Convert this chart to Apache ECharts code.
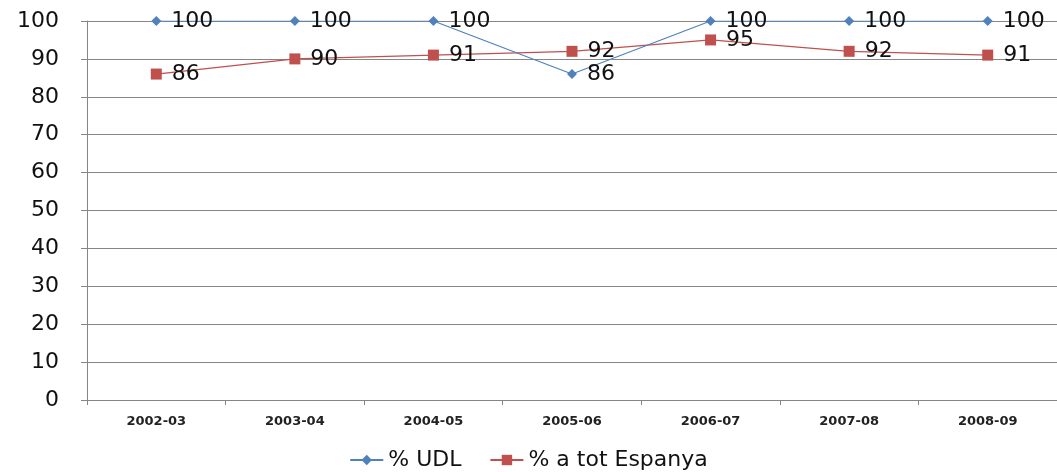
<!DOCTYPE html>
<html><head><meta charset="utf-8">
<script src="https://cdn.jsdelivr.net/npm/echarts@6/dist/echarts.min.js"></script>
<style>html,body{margin:0;padding:0;background:#fff}#c{width:1057px;height:472px}</style>
</head><body><div id="c"></div>
<script>
const categories = ['2002-03','2003-04','2004-05','2005-06','2006-07','2007-08','2008-09'];
const udl = [100,100,100,86,100,100,100];
const espanya = [86,90,91,92,95,92,91];
const yTicks = {min:0,max:100,interval:10};
const chart = echarts.init(document.getElementById('c'));
const lbl = {show:true,position:'right',distance:10,fontFamily:'DejaVu Sans',fontSize:22,color:'#111'};
chart.setOption({
  animation:false,
  grid:{left:87,top:21,width:975,height:379,containLabel:false},
  xAxis:{type:'category',data:categories,boundaryGap:true,
    axisLine:{lineStyle:{color:'#868686',width:1}},
    axisTick:{show:true,length:5,lineStyle:{color:'#868686'}},
    axisLabel:{fontFamily:'DejaVu Sans',fontSize:13,fontWeight:'bold',color:'#222',margin:15}},
  yAxis:{type:'value',min:yTicks.min,max:yTicks.max,interval:yTicks.interval,
    axisLine:{show:true,lineStyle:{color:'#868686'}},
    axisTick:{show:true,length:6,lineStyle:{color:'#868686'}},
    splitLine:{lineStyle:{color:'#868686',width:1}},
    axisLabel:{fontFamily:'DejaVu Sans',fontSize:22,color:'#111',margin:28}},
  legend:{top:444,left:'center',itemGap:28,itemWidth:33,itemHeight:13,
    textStyle:{fontFamily:'DejaVu Sans',fontSize:22,color:'#111'},
    data:['% UDL','% a tot Espanya']},
  series:[
    {name:'% UDL',type:'line',data:udl,symbol:'diamond',symbolSize:10,
     itemStyle:{color:'#4F81BD'},lineStyle:{color:'#4F81BD',width:1.2},label:lbl,z:3},
    {name:'% a tot Espanya',type:'line',data:espanya,symbol:'rect',symbolSize:11,
     itemStyle:{color:'#C0504D'},lineStyle:{color:'#C0504D',width:1.2},label:lbl,z:2}
  ]
});
</script></body></html>
